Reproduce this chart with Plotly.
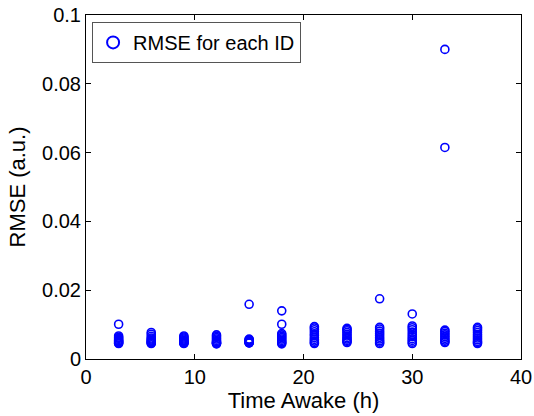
import plotly.graph_objects as go

# Time awake (h) and RMSE values per ID
hours = [3, 6, 9, 12, 15, 18, 21, 24, 27, 30, 33, 36]
rmse_by_hour = {
    3:  [0.0101, 0.0067, 0.0063, 0.0060, 0.0057, 0.0054, 0.0052, 0.0050, 0.0048, 0.0046, 0.0045],
    6:  [0.0077, 0.0072, 0.0066, 0.0061, 0.0058, 0.0055, 0.0052, 0.0050, 0.0048, 0.0046, 0.0045],
    9:  [0.0067, 0.0064, 0.0061, 0.0058, 0.0055, 0.0053, 0.0051, 0.0049, 0.0047, 0.0046, 0.0045],
    12: [0.0070, 0.0066, 0.0062, 0.0058, 0.0054, 0.0051, 0.0049, 0.0047, 0.0046, 0.0045, 0.0044],
    15: [0.0159, 0.0058, 0.0056, 0.0054, 0.0052, 0.0051, 0.0050, 0.0049, 0.0048, 0.0047, 0.0047],
    18: [0.0140, 0.0101, 0.0074, 0.0070, 0.0066, 0.0062, 0.0058, 0.0054, 0.0050, 0.0047, 0.0044],
    21: [0.0094, 0.0090, 0.0085, 0.0079, 0.0073, 0.0068, 0.0062, 0.0057, 0.0052, 0.0048, 0.0045],
    24: [0.0089, 0.0086, 0.0082, 0.0077, 0.0072, 0.0067, 0.0062, 0.0058, 0.0054, 0.0051, 0.0048],
    27: [0.0175, 0.0092, 0.0087, 0.0081, 0.0075, 0.0069, 0.0063, 0.0058, 0.0053, 0.0049, 0.0045],
    30: [0.0131, 0.0096, 0.0091, 0.0085, 0.0078, 0.0071, 0.0065, 0.0059, 0.0054, 0.0049, 0.0045],
    33: [0.0900, 0.0615, 0.0084, 0.0080, 0.0075, 0.0070, 0.0065, 0.0060, 0.0055, 0.0051, 0.0048],
    36: [0.0092, 0.0088, 0.0083, 0.0077, 0.0071, 0.0066, 0.0061, 0.0056, 0.0051, 0.0048, 0.0045],
}

x_ticks = [0, 10, 20, 30, 40]
y_ticks = [0, 0.02, 0.04, 0.06, 0.08, 0.1]
y_tick_text = ["0", "0.02", "0.04", "0.06", "0.08", "0.1"]

xs, ys = [], []
for h in hours:
    for v in rmse_by_hour[h]:
        xs.append(h)
        ys.append(v)

font_family = "Liberation Sans, Arial, sans-serif"

fig = go.Figure()
fig.add_trace(go.Scatter(
    x=xs, y=ys, mode="markers", name="RMSE for each ID",
    marker=dict(symbol="circle-open", size=8, color="#0000ff",
                line=dict(width=1.6, color="#0000ff")),
))

axis_common = dict(
    showline=True, linecolor="black", linewidth=1, mirror="ticks",
    ticks="inside", ticklen=5, tickcolor="black", showgrid=False, zeroline=False,
    automargin=False, ticklabeloverflow="allow",
    tickfont=dict(size=20, color="black", family=font_family),
)
fig.update_xaxes(range=[0, 40], tickvals=x_ticks,
                 title=dict(text="Time Awake (h)", font=dict(size=22, color="black", family=font_family), standoff=5),
                 **axis_common)
fig.update_yaxes(range=[0, 0.1], tickvals=y_ticks, ticktext=y_tick_text,
                 title=dict(text="RMSE (a.u.)", font=dict(size=22, color="black", family=font_family), standoff=10),
                 **axis_common)

fig.update_layout(
    width=534, height=416,
    margin=dict(l=86, r=13, t=15, b=57),
    plot_bgcolor="white", paper_bgcolor="white",
    showlegend=True,
    legend=dict(x=0.014, y=0.98, xanchor="left", yanchor="top",
                bgcolor="white", bordercolor="#555555", borderwidth=1,
                font=dict(size=20, color="black", family=font_family),
                itemsizing="constant", tracegroupgap=0),
    font=dict(family=font_family),
)

# remove the browser's default 8px body margin so the figure fills the window
fig.write_html("out.html", config={"displayModeBar": False},
               post_script="document.body.style.margin='0';")
